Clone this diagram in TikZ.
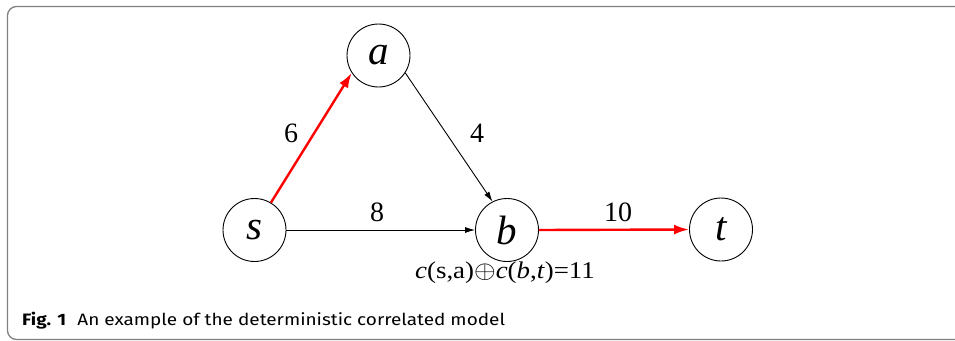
\documentclass[tikz,border=0pt]{standalone}
\usepackage{fontspec}
\setmainfont{Liberation Serif}
\newfontfamily\capfont{Fira Sans}
\usetikzlibrary{arrows.meta}
\begin{document}
\begin{tikzpicture}[x=1pt,y=-1pt,
  vertex/.style={circle,draw,line width=0.9pt,minimum size=63pt,inner sep=0pt,
    font=\fontsize{41}{41}\selectfont\itshape},
  redarc/.style={red,line width=2.4pt,-{Latex[length=15pt,width=10pt]}},
  blackarc/.style={black,line width=0.9pt,-{Latex[length=10pt,width=6pt]}},
  weight/.style={font=\fontsize{28}{28}\selectfont,inner sep=0pt}]
\useasboundingbox (0,0) rectangle (955,340);
\draw[gray,line width=1.3pt,rounded corners=9pt] (970,6.5) -- (7.5,6.5) -- (7.5,339.5) -- (30,339.5) -- (970,339.5);
\node[vertex] (s) at (254.5,230) {s};
\node[vertex] (a) at (378.5,55.5) {a};
\node[vertex] (b) at (507,230) {b};
\node[vertex] (t) at (721,229.5) {t};
\draw[redarc] (s.59) -- (a.213);
\draw[blackarc] (a.327) -- (b.117);
\draw[blackarc] (s.east) -- (b.west);
\draw[redarc] (b.east) -- (t.west);
\node[weight] (w6) at (291,133.5) {6};
\node[weight] (w4) at (477,133) {4};
\node[weight] (w8) at (377,212.5) {8};
\node[weight] (w10) at (618,212) {10};
\node[font=\fontsize{24}{24}\selectfont,inner sep=0pt,anchor=base,xscale=1.12] (f) at (505,278.5) {\textit{c}(s,a)$\oplus$\textit{c}(\textit{b},\textit{t})=11};
\node[font=\capfont\fontsize{16.5}{17}\selectfont,inner sep=0pt,anchor=base west,xscale=1.15] (cap) at (22,325) {\textbf{Fig. 1}\hspace{0.6em}An example of the deterministic correlated model};
\end{tikzpicture}
\end{document}
